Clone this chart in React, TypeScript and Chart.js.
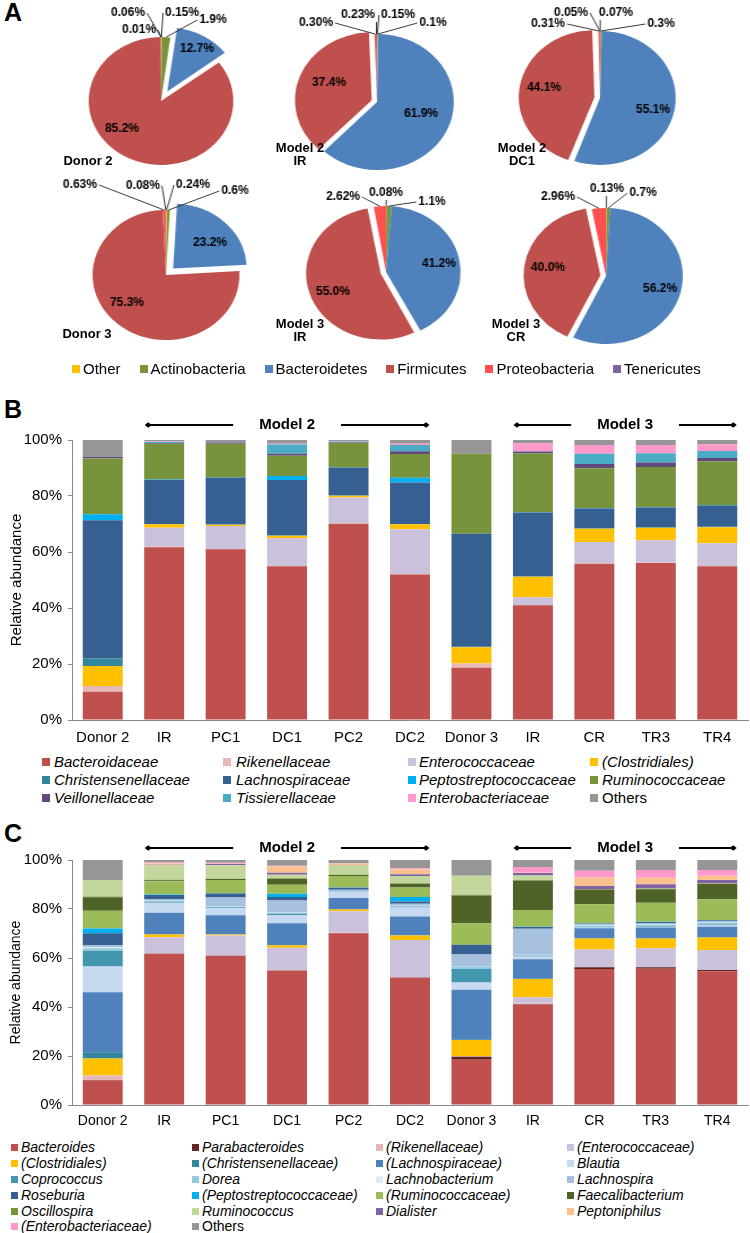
import React, { useEffect, useRef } from 'react';
import { Chart, registerables } from 'chart.js';

Chart.register(...registerables);

const FONT = '"Liberation Sans", Arial, Helvetica, sans-serif';
Chart.defaults.font.family = FONT;
Chart.defaults.color = '#000';

// ---------------- Panel A data (phylum level) ----------------
const phyla = ['Other', 'Actinobacteria', 'Bacteroidetes', 'Firmicutes', 'Proteobacteria', 'Tenericutes'];
const phylaColors = ['#FFC000', '#77933C', '#4F81BD', '#C0504D', '#FF5050', '#8064A2'];

const donor2Phyla = [0.15, 1.9, 12.7, 85.2, 0.06, 0.01];
const donor2Text = ['0.15%', '1.9%', '12.7%', '85.2%', '0.06%', '0.01%'];
const model2IRPhyla = [0.15, 0.1, 61.9, 37.4, 0.3, 0.23];
const model2IRText = ['0.15%', '0.1%', '61.9%', '37.4%', '0.30%', '0.23%'];
const model2DC1Phyla = [0.07, 0.3, 55.1, 44.1, 0.31, 0.05];
const model2DC1Text = ['0.07%', '0.3%', '55.1%', '44.1%', '0.31%', '0.05%'];
const donor3Phyla = [0.24, 0.6, 23.2, 75.3, 0.63, 0.08];
const donor3Text = ['0.24%', '0.6%', '23.2%', '75.3%', '0.63%', '0.08%'];
const model3IRPhyla = [0.08, 1.1, 41.2, 55.0, 2.62, 0];
const model3IRText = ['0.08%', '1.1%', '41.2%', '55.0%', '2.62%', ''];
const model3CRPhyla = [0.13, 0.7, 56.2, 40.0, 2.96, 0];
const model3CRText = ['0.13%', '0.7%', '56.2%', '40.0%', '2.96%', ''];

// ---------------- Panel B data (family level) ----------------
const barCategories = ['Donor 2', 'IR', 'PC1', 'DC1', 'PC2', 'DC2', 'Donor 3', 'IR', 'CR', 'TR3', 'TR4'];
const modelNames = ['Model 2', 'Model 3'];
const modelFirst = [1, 7];
const modelLast = [5, 10];

const bBacteroidaceae = [10.1, 61.7, 61.0, 54.9, 70.1, 52.0, 18.7, 41.0, 55.8, 56.1, 54.9];
const bRikenellaceae = [2.0, 0.2, 0.1, 0.1, 0.1, 0.1, 1.5, 0.1, 0.1, 0.1, 0.1];
const bEnterococcaceae = [0, 6.8, 8.2, 9.9, 9.3, 16.0, 0, 2.7, 7.7, 8.0, 8.1];
const bClostridiales = [7.2, 1.2, 0.4, 0.9, 0.6, 1.8, 5.8, 7.4, 4.7, 4.5, 5.7];
const bChristensenellaceae = [2.7, 0.1, 0.1, 0.1, 0.1, 0.1, 0.2, 0.1, 0.2, 0.2, 0.2];
const bLachnospiraceae = [49.3, 15.8, 16.8, 19.8, 10.0, 14.8, 40.3, 22.8, 7.0, 7.0, 7.6];
const bPeptostreptococcaceae = [2.2, 0.2, 0.1, 1.4, 0.1, 1.7, 0, 0.1, 0.2, 0.2, 0.2];
const bRuminococcaceae = [19.9, 12.7, 12.0, 7.3, 8.6, 8.5, 28.6, 21.0, 14.2, 14.3, 15.5];
const bVeillonellaceae = [0.5, 0.2, 0.4, 0.7, 0.2, 1.0, 0, 0.7, 1.5, 1.6, 1.3];
const bTissierellaceae = [0, 0.4, 0.1, 3.3, 0.3, 2.2, 0, 0.1, 3.7, 3.3, 2.5];
const bEnterobacteriaceae = [0, 0.2, 0.1, 0.3, 0.1, 0.5, 0, 2.8, 3.1, 2.9, 2.4];
const bOthers = [6.1, 0.5, 0.7, 1.3, 0.5, 1.3, 4.9, 1.2, 1.8, 1.8, 1.5];

const bNames = ['Bacteroidaceae', 'Rikenellaceae', 'Enterococcaceae', '(Clostridiales)', 'Christensenellaceae', 'Lachnospiraceae', 'Peptostreptococcaceae', 'Ruminococcaceae', 'Veillonellaceae', 'Tissierellaceae', 'Enterobacteriaceae', 'Others'];
const bColors = ['#C0504D', '#E6B9B8', '#CCC1DA', '#FFC000', '#31859C', '#366092', '#00B0F0', '#77933C', '#604A7B', '#4BACC6', '#FF99CC', '#969696'];
const bSeries = [bBacteroidaceae, bRikenellaceae, bEnterococcaceae, bClostridiales, bChristensenellaceae, bLachnospiraceae, bPeptostreptococcaceae, bRuminococcaceae, bVeillonellaceae, bTissierellaceae, bEnterobacteriaceae, bOthers];

// ---------------- Panel C data (genus level) ----------------
const cBacteroides = [10.0, 61.6, 60.8, 54.8, 70.1, 51.9, 18.5, 41.0, 55.5, 55.6, 54.6];
const cParabacteroides = [0.2, 0.1, 0.1, 0.1, 0.1, 0.1, 1.2, 0.2, 0.7, 0.6, 0.5];
const cRikenellaceae = [1.8, 0.1, 0.1, 0.1, 0.1, 0.1, 0.3, 0.1, 0, 0, 0];
const cEnterococcaceae = [0, 6.7, 8.2, 9.2, 8.8, 15.2, 0, 2.7, 7.3, 7.8, 8.2];
const cClostridiales = [7.0, 1.1, 0.4, 1.0, 0.7, 1.9, 6.5, 7.4, 4.5, 4.0, 5.1];
const cChristensenellaceae = [2.5, 0.1, 0.1, 0.1, 0.1, 0.1, 0.3, 0.1, 0, 0, 0];
const cLachnospiraceae = [24.5, 8.8, 7.7, 8.9, 4.6, 7.6, 20.2, 8.0, 4.1, 4.4, 4.4];
const cBlautia = [10.5, 4.1, 2.9, 3.2, 2.3, 3.7, 3.0, 1.1, 0.3, 0.4, 0.5];
const cCoprococcus = [6.5, 0.4, 0.4, 0.7, 0.2, 0.3, 5.5, 0.3, 0.3, 0.3, 0.4];
const cDorea = [1.0, 0.3, 0.2, 0.3, 0.2, 0.3, 1.0, 0.3, 0.5, 0.5, 0.6];
const cLachnobacterium = [0.4, 0.1, 0.1, 0.1, 0.1, 0.1, 0.1, 0.1, 0.1, 0.1, 0.1];
const cLachnospira = [0.9, 0.7, 3.7, 5.0, 0.6, 0.8, 4.8, 10.6, 0.5, 0.6, 0.6];
const cRoseburia = [4.8, 1.6, 1.6, 1.4, 0.8, 1.0, 4.0, 0.8, 0.3, 0.4, 0.4];
const cPeptostreptococcaceae = [1.9, 0.2, 0.1, 1.3, 0.1, 1.8, 0, 0.1, 0.1, 0.1, 0.1];
const cRuminococcaceae = [7.3, 5.4, 5.4, 3.7, 4.7, 3.9, 8.8, 6.8, 7.7, 7.8, 8.5];
const cFaecalibacterium = [5.5, 0.4, 0.4, 2.4, 0.4, 1.5, 11.3, 12.0, 6.1, 5.5, 6.2];
const cOscillospira = [0.3, 0.2, 0.1, 0.3, 0.1, 0.2, 0.3, 0.1, 0.1, 0.2, 0.1];
const cRuminococcus = [6.7, 6.0, 5.6, 1.4, 3.8, 3.0, 7.8, 2.0, 0.1, 0.1, 0.1];
const cDialister = [0, 0.2, 0.5, 0.8, 0.2, 0.7, 0, 1.0, 1.2, 1.7, 1.4];
const cPeptoniphilus = [0, 0.5, 0.1, 2.6, 0.6, 2.0, 0, 0.1, 3.5, 2.7, 1.8];
const cEnterobacteriaceae = [0, 0.4, 0.4, 0.3, 0.1, 0.4, 0, 2.3, 2.7, 3.1, 2.3];
const cOthers = [8.2, 1.0, 1.1, 2.3, 1.3, 3.4, 6.4, 2.9, 4.4, 4.1, 4.1];

const cNames = ['Bacteroides', 'Parabacteroides', '(Rikenellaceae)', '(Enterococcaceae)', '(Clostridiales)', '(Christensenellaceae)', '(Lachnospiraceae)', 'Blautia', 'Coprococcus', 'Dorea', 'Lachnobacterium', 'Lachnospira', 'Roseburia', '(Peptostreptococcaceae)', '(Ruminococcaceae)', 'Faecalibacterium', 'Oscillospira', 'Ruminococcus', 'Dialister', 'Peptoniphilus', '(Enterobacteriaceae)', 'Others'];
const cColors = ['#C0504D', '#632523', '#E6B9B8', '#CCC1DA', '#FFC000', '#31859C', '#4F81BD', '#C6D9F1', '#4297AE', '#93CDDD', '#DBEEF4', '#A7C0DE', '#366092', '#00B0F0', '#9BBB59', '#4F6228', '#77933C', '#C3D69B', '#8064A2', '#FAC090', '#FF99CC', '#969696'];
const cSeries = [cBacteroides, cParabacteroides, cRikenellaceae, cEnterococcaceae, cClostridiales, cChristensenellaceae, cLachnospiraceae, cBlautia, cCoprococcus, cDorea, cLachnobacterium, cLachnospira, cRoseburia, cPeptostreptococcaceae, cRuminococcaceae, cFaecalibacterium, cOscillospira, cRuminococcus, cDialister, cPeptoniphilus, cEnterobacteriaceae, cOthers];

// ---------------- Layout ----------------
const SX = 1.13; // horizontal stretch of the pies (they are ellipses in the figure)
const PIE_W = 200;
const PIE_H = 200;

const pieSpecs = [
  { values: donor2Phyla, texts: donor2Text, name: ['Donor 2'], nameX: 88, nameY: 160, cx: 161, cy: 101, r: 64, explode: 2, off: 11,
    pos: [[21, -88], [52, -81], [36, -52], [-39, 28], [-33, -88], [-22, -71]] },
  { values: model2IRPhyla, texts: model2IRText, name: ['Model 2', 'IR'], nameX: 300, nameY: 147, cx: 377, cy: 102, r: 68, explode: 3, off: 5,
    pos: [[21, -87], [56, -79], [44, 12], [-48, -19], [-61, -79], [-19, -87]] },
  { values: model2DC1Phyla, texts: model2DC1Text, name: ['Model 2', 'DC1'], nameX: 522, nameY: 147, cx: 600, cy: 98, r: 67, explode: 3, off: 5,
    pos: [[16, -85], [61, -74], [53, 12], [-56, -10], [-52, -74], [-29, -85]] },
  { values: donor3Phyla, texts: donor3Text, name: ['Donor 3'], nameX: 87, nameY: 333, cx: 166, cy: 275, r: 65, explode: 2, off: 9,
    pos: [[27, -90], [69, -84], [44, -32], [-39, 28], [-86, -90], [-23, -89]] },
  { values: model3IRPhyla, texts: model3IRText, name: ['Model 3', 'IR'], nameX: 300, nameY: 323, cx: 386, cy: 272, r: 66, explode: 3, off: 5,
    pos: [[0, -79], [46, -70], [53, -8], [-53, 20], [-43, -75], [0, 0]] },
  { values: model3CRPhyla, texts: model3CRText, name: ['Model 3', 'CR'], nameX: 516, nameY: 323, cx: 606, cy: 276, r: 68, explode: 3, off: 5,
    pos: [[1, -87], [37, -83], [54, 13], [-58, -8], [-48, -79], [0, 0]] },
];

function makePieLabelPlugin(spec: any) {
  return {
    id: 'pieLabels',
    beforeDatasetsDraw(chart: any) {
      // keep the exploded slice at the same radius as the others (Chart.js enlarges offset arcs)
      const arcs = chart.getDatasetMeta(0).data;
      arcs.forEach((arc: any, i: number) => {
        if (i !== spec.explode) return;
        const circ = arc.endAngle - arc.startAngle;
        const fix = 1 - Math.sin(Math.min(Math.PI, circ));
        arc.outerRadius = spec.r - spec.off * fix;
      });
    },
    afterDatasetsDraw(chart: any) {
      const ctx = chart.ctx;
      const arcs = chart.getDatasetMeta(0).data;
      ctx.save();
      ctx.font = `bold 12px ${FONT}`;
      ctx.textAlign = 'center';
      ctx.textBaseline = 'middle';
      arcs.forEach((arc: any, i: number) => {
        const t = spec.texts[i];
        if (!t) return;
        const p = arc.getProps(['x', 'y', 'startAngle', 'endAngle'], true);
        const [dx, dy] = spec.pos[i];
        const w = ctx.measureText(t).width;
        if (spec.values[i] < 5) {
          const mid = (p.startAngle + p.endAngle) / 2;
          const ax = Math.cos(mid) * spec.r * SX;
          const ay = Math.sin(mid) * spec.r;
          let ex: number;
          let ey: number;
          if (dx + w / 2 + 2 < ax) { ex = dx + w / 2 + 2; ey = dy; }
          else if (dx - w / 2 - 2 > ax) { ex = dx - w / 2 - 2; ey = dy; }
          else { ex = ax; ey = dy + 7; }
          ctx.strokeStyle = '#3a3a3a';
          ctx.lineWidth = 1;
          ctx.beginPath();
          ctx.moveTo(p.x + ax / SX, p.y + ay);
          ctx.lineTo(p.x + ex / SX, p.y + ey);
          ctx.stroke();
        }
        ctx.save();
        ctx.translate(p.x + dx / SX, p.y + dy);
        ctx.scale(1 / SX, 1);
        ctx.fillStyle = '#000';
        ctx.fillText(t, 0, 0);
        ctx.restore();
      });
      ctx.restore();
    },
  };
}

function pieConfig(spec: any): any {
  return {
    type: 'pie',
    data: {
      labels: phyla,
      datasets: [{
        data: spec.values,
        backgroundColor: phylaColors,
        borderWidth: 0,
        offset: spec.values.map((_: number, i: number) => (i === spec.explode ? spec.off * 4 : 0)),
      }],
    },
    options: {
      animation: false,
      responsive: false,
      radius: spec.r,
      layout: { padding: 0 },
      plugins: { legend: { display: false }, tooltip: { enabled: false } },
    },
    plugins: [makePieLabelPlugin(spec)],
  };
}

function makeModelPlugin(gap: number) {
  return {
    id: 'models',
    afterDraw(chart: any) {
      const ctx = chart.ctx;
      const xs = chart.scales.x;
      const bw = chart.getDatasetMeta(0).data[0].width;
      const y = chart.chartArea.top - gap;
      ctx.save();
      ctx.font = `bold 15px ${FONT}`;
      ctx.textAlign = 'center';
      ctx.textBaseline = 'middle';
      ctx.fillStyle = '#000';
      ctx.strokeStyle = '#000';
      ctx.lineWidth = 1.8;
      modelNames.forEach((name, k) => {
        const a = xs.getPixelForValue(modelFirst[k]);
        const b = xs.getPixelForValue(modelLast[k]);
        const x0 = a - bw / 2 + 4;
        const x1 = b + bw / 2 - 4;
        const xc = (a + b) / 2;
        const w = ctx.measureText(name).width;
        ctx.fillText(name, xc, y);
        ctx.beginPath();
        ctx.moveTo(x0, y);
        ctx.lineTo(xc - w / 2 - 26, y);
        ctx.moveTo(xc + w / 2 + 26, y);
        ctx.lineTo(x1, y);
        ctx.stroke();
        [x0, x1].forEach((xx) => {
          ctx.beginPath();
          ctx.moveTo(xx - 3.5, y);
          ctx.lineTo(xx, y - 2.8);
          ctx.lineTo(xx + 3.5, y);
          ctx.lineTo(xx, y + 2.8);
          ctx.closePath();
          ctx.fill();
        });
      });
      ctx.restore();
    },
  };
}

function barConfig(names: string[], colors: string[], series: number[][], o: any): any {
  return {
    type: 'bar',
    data: {
      labels: barCategories,
      datasets: names.map((n, i) => ({
        label: n,
        data: series[i],
        backgroundColor: colors[i],
        borderWidth: 0,
        barPercentage: 0.65,
        categoryPercentage: 1,
      })),
    },
    options: {
      animation: false,
      responsive: false,
      layout: { padding: { top: o.padTop, right: 2, left: 0, bottom: 0 } },
      plugins: { legend: { display: false }, tooltip: { enabled: false } },
      scales: {
        x: {
          stacked: true,
          grid: { display: true, drawOnChartArea: false, drawTicks: false },
          border: { color: '#8a8a8a', width: 1 },
          ticks: { font: { size: o.tickSize }, color: '#000', padding: o.xPad, autoSkip: false, maxRotation: 0 },
          afterFit: (s: any) => { s.height = 30; },
        },
        y: {
          stacked: true,
          min: 0,
          max: 100,
          ticks: { stepSize: 20, font: { size: 15 }, color: '#000', padding: 6, callback: (v: any) => v + '%' },
          grid: { drawOnChartArea: false, tickLength: 4, color: '#8a8a8a' },
          border: { color: '#8a8a8a', width: 1 },
          title: { display: true, text: 'Relative abundance', font: { size: o.titleSize }, color: '#000', padding: { top: 8, bottom: 0 } },
          afterFit: (s: any) => { s.width = 72; },
        },
      },
    },
    plugins: [makeModelPlugin(o.annGap)],
  };
}

function ChartCanvas({ make, w, h, cssW, left, top }: any) {
  const ref = useRef<HTMLCanvasElement>(null);
  useEffect(() => {
    const chart = new Chart(ref.current as HTMLCanvasElement, make());
    return () => chart.destroy();
  }, []);
  return (
    <canvas
      ref={ref}
      width={w}
      height={h}
      style={{ position: 'absolute', left, top, width: cssW ?? w, height: h }}
    />
  );
}

function GridLegend({ names, colors, sqX, txX, rowY, size, sq }: any) {
  return (
    <>
      {names.map((n: string, i: number) => {
        const c = i % 4;
        const r = Math.floor(i / 4);
        const y = rowY[r];
        return (
          <React.Fragment key={n + i}>
            <div style={{ position: 'absolute', left: sqX[c], top: y - sq / 2, width: sq, height: sq, background: colors[i] }} />
            <div
              style={{
                position: 'absolute',
                left: txX[c],
                top: y - size * 0.6,
                lineHeight: `${size * 1.2}px`,
                fontSize: size,
                fontStyle: n === 'Others' ? 'normal' : 'italic',
                whiteSpace: 'nowrap',
                color: '#000',
              }}
            >
              {n}
            </div>
          </React.Fragment>
        );
      })}
    </>
  );
}

export default function App() {
  const panelLetter = (t: string, top: number) => (
    <div style={{ position: 'absolute', left: 4, top, fontSize: 25, lineHeight: '25px', fontWeight: 'bold' }}>{t}</div>
  );
  return (
    <div style={{ position: 'absolute', left: 0, top: 0, width: 750, height: 1233, background: '#fff', fontFamily: FONT, color: '#000', overflow: 'hidden' }}>
      {panelLetter('A', 0)}
      {panelLetter('B', 397)}
      {panelLetter('C', 821)}

      {pieSpecs.map((s, i) => (
        <ChartCanvas
          key={'pie' + i}
          make={() => pieConfig(s)}
          w={PIE_W}
          h={PIE_H}
          cssW={PIE_W * SX}
          left={s.cx - (PIE_W / 2) * SX}
          top={s.cy - PIE_H / 2}
        />
      ))}
      {pieSpecs.map((s, i) => (
        <div
          key={'pn' + i}
          style={{ position: 'absolute', left: s.nameX - 50, width: 100, top: s.nameY - 6.5, textAlign: 'center', fontWeight: 'bold', fontSize: 13, lineHeight: '13px', whiteSpace: 'nowrap' }}
        >
          {s.name.map((l, k) => (<div key={k}>{l}</div>))}
        </div>
      ))}

      <div style={{ position: 'absolute', left: 72, top: 360, display: 'flex', gap: 19, fontSize: 15, lineHeight: '18px', whiteSpace: 'nowrap' }}>
        {phyla.map((p, i) => (
          <div key={p} style={{ display: 'flex', alignItems: 'center' }}>
            <span style={{ display: 'inline-block', width: 8, height: 8, background: phylaColors[i], marginRight: 3 }} />
            <span>{p}</span>
          </div>
        ))}
      </div>

      <ChartCanvas
        make={() => barConfig(bNames, bColors, bSeries, { padTop: 40, tickSize: 15, xPad: 9, titleSize: 15, annGap: 15 })}
        w={750}
        h={350}
        left={0}
        top={400}
      />
      <GridLegend names={bNames} colors={bColors} sqX={[42, 223, 408, 590]} txX={[54, 236, 419, 602]} rowY={[762, 780, 798]} size={15} sq={8} />

      <ChartCanvas
        make={() => barConfig(cNames, cColors, cSeries, { padTop: 30, tickSize: 14, xPad: 8, titleSize: 14, annGap: 12 })}
        w={750}
        h={305}
        left={0}
        top={830}
      />
      <GridLegend names={cNames} colors={cColors} sqX={[11, 192, 376, 567]} txX={[21, 202, 386, 577]} rowY={[1147, 1163, 1179, 1195, 1211, 1226]} size={14} sq={7} />
    </div>
  );
}
